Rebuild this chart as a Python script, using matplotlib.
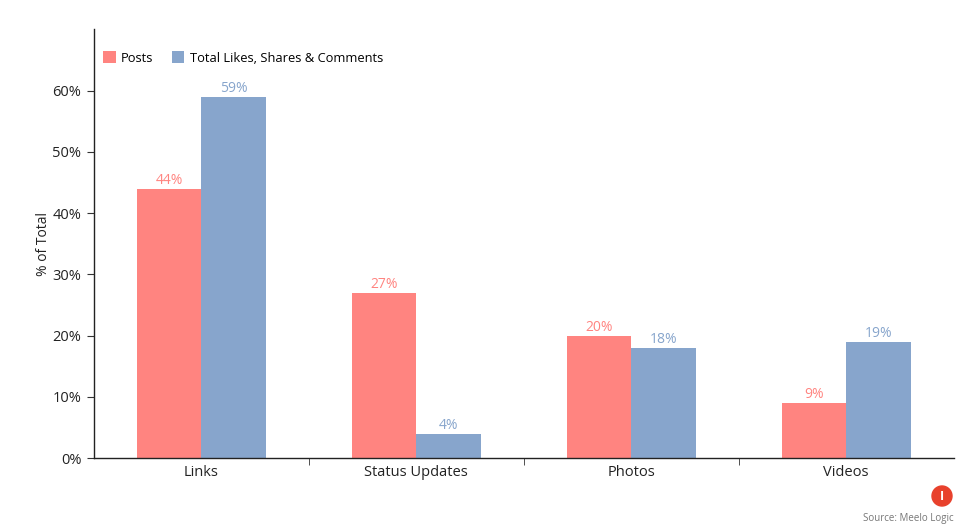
import numpy as np
import matplotlib.pyplot as plt
from matplotlib.ticker import FixedLocator

categories = ['Links', 'Status Updates', 'Photos', 'Videos']
posts = [44, 27, 20, 9]
engagement = [59, 4, 18, 19]
series_names = ['Posts', 'Total Likes, Shares & Comments']
c_posts = '#ff8480'
c_eng = '#87a5cc'

plt.rcParams['font.family'] = ['Open Sans', 'DejaVu Sans']

fig = plt.figure(figsize=(9.78, 5.30), dpi=100)
ax = fig.add_axes([0.0961, 0.1358, 0.879, 0.809])

x = np.arange(len(categories))
w = 0.3
b1 = ax.bar(x - w / 2, posts, w, color=c_posts, label=series_names[0])
b2 = ax.bar(x + w / 2, engagement, w, color=c_eng, label=series_names[1])

for rect, v in zip(b1, posts):
    ax.text(rect.get_x() + rect.get_width() / 2, v + 0.1, f'{v}%', ha='center', va='bottom',
            color=c_posts, fontsize=10)
for rect, v in zip(b2, engagement):
    ax.text(rect.get_x() + rect.get_width() / 2, v + 0.1, f'{v}%', ha='center', va='bottom',
            color=c_eng, fontsize=10)

ax.set_xlim(-0.5, len(categories) - 0.5)
ax.set_ylim(0, 70)
ax.set_yticks(range(0, 70, 10))
ax.set_yticklabels([f'{t}%' for t in range(0, 70, 10)], fontsize=10.5, color='#222222')
ax.set_xticks(x)
ax.set_xticklabels(categories, fontsize=10.5, color='#222222')
ax.tick_params(axis='x', which='major', length=0, pad=5)
ax.xaxis.set_minor_locator(FixedLocator(x[:-1] + 0.5))
ax.tick_params(axis='x', which='minor', length=5, color='#333333')
ax.tick_params(axis='y', length=5, color='#333333', pad=4)
ax.set_ylabel('% of Total', fontsize=10, color='#222222', labelpad=1)

for s in ['top', 'right']:
    ax.spines[s].set_visible(False)
for s in ['left', 'bottom']:
    ax.spines[s].set_color('#222222')
    ax.spines[s].set_linewidth(1)

leg = ax.legend(loc='center left', bbox_to_anchor=(0.0, 0.933), ncol=2, frameon=False,
                fontsize=9.3, handlelength=1.0, handleheight=1.0, handletextpad=0.4,
                columnspacing=1.4, borderaxespad=0.3)

fig.text(0.975, 0.021, 'Source: Meelo Logic', ha='right', va='center', fontsize=7, color='#777777')
circ = plt.Circle((942, 530 - 496), 10, transform=None, color='#e8412c', zorder=5)
fig.patches.append(circ)
fig.text(942 / 978, 1 - 496 / 530, 'I', ha='center', va='center', fontsize=9,
         fontweight='bold', color='white', zorder=6)

fig.savefig('out.png', dpi=100)
